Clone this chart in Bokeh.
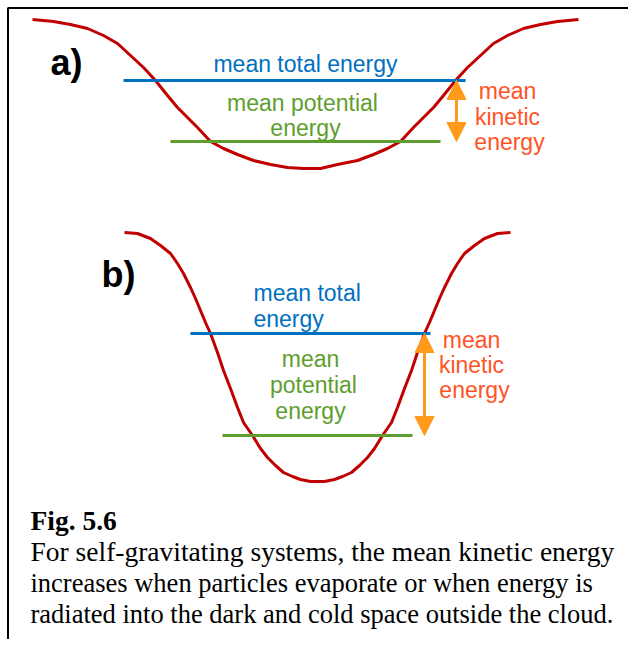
from bokeh.plotting import figure
from bokeh.models import Range1d, ColumnDataSource, Arrow, NormalHead
from bokeh.core.properties import value
from bokeh.embed import file_html
from bokeh.resources import INLINE

# ---------------- data (image pixel coordinates) ----------------
well_a_x = [32, 53, 70, 87, 103, 117, 130, 143, 155, 167, 177, 187, 197, 210, 223, 237, 253, 270, 287, 303, 320,
            337, 357, 373, 387, 400, 413, 423, 433, 443, 455, 467, 480, 493, 507, 523, 540, 557, 578]
well_a_y = [19, 21, 24, 28, 35, 43, 55, 67, 80, 95, 107, 117, 127, 141, 148, 154, 160, 164, 167, 168, 168,
            164, 160, 154, 148, 141, 127, 117, 107, 95, 80, 67, 55, 43, 35, 28, 24, 21, 19]

well_b_x = [124, 137, 150, 160, 170, 177, 183, 190, 195, 200, 205, 210, 217, 223, 230, 237, 243, 252, 260, 267,
            275, 283, 292, 300, 310, 317, 324, 334, 342, 351, 359, 367, 374, 382, 391, 397, 404, 411, 417, 424,
            429, 434, 439, 444, 451, 457, 464, 474, 484, 497, 510]
well_b_y = [232, 233, 238, 245, 253, 263, 273, 287, 298, 310, 322, 333, 352, 370, 388, 407, 422, 435, 448, 457,
            465, 472, 476, 479, 481, 481, 481, 479, 476, 472, 465, 457, 448, 435, 422, 407, 388, 370, 352, 333,
            322, 310, 298, 287, 273, 263, 253, 245, 238, 233, 232]

total_x0 = [123, 190]
total_x1 = [465, 430]
total_y = [80, 333]

potential_x0 = [170, 222]
potential_x1 = [440, 412]
potential_y = [141, 435]

kinetic_x = [456, 424]
kinetic_top = [80, 333]
kinetic_bottom = [141, 435]

panel_labels = ["a)", "b)"]
panel_label_x = [50, 101]
panel_label_y = [62, 274]

blue_text = ["mean total energy", "mean total", "energy"]
blue_text_x = [305, 253, 253]
blue_text_y = [63, 292, 318]
blue_align = ["center", "left", "left"]

green_text = ["mean potential", "energy", "mean", "potential", "energy"]
green_text_x = [302, 305, 310, 313, 310]
green_text_y = [102, 127, 358, 384, 410]

orange_text = ["mean", "kinetic", "energy", "mean", "kinetic", "energy"]
orange_text_x = [507, 507, 509, 471, 471, 474]
orange_text_y = [90, 116, 141, 339, 364, 389]

caption_title = "Fig. 5.6"
caption_lines = [
    "For self-gravitating systems, the mean kinetic energy",
    "increases when particles evaporate or when energy is",
    "radiated into the dark and cold space outside the cloud.",
]
caption_x = 30
caption_title_y = 520
caption_line_y = [551, 582, 613]

frame_x = [7.5, 7.5, 700]
frame_y = [700, 7.5, 7.5]

# ---------------- styles ----------------
RED = "#C00000"
BLUE = "#0070C0"
GREEN = "#5E9E2E"
ORANGE = "#FF9A1A"
ORANGE_TXT = "#FF5326"
SANS = value("Liberation Sans")
SERIF = value("Liberation Serif")
caption_sizes = ["27.5px", "26.5px", "26.5px"]

p = figure(width=628, height=639, output_backend="svg", toolbar_location=None,
           x_range=Range1d(0, 628), y_range=Range1d(639, 0),
           min_border=0, background_fill_color="white", border_fill_color="white")
p.axis.visible = False
p.grid.visible = False
p.outline_line_color = None

# frame
p.line(frame_x, frame_y, line_color="black", line_width=2)

# wells
p.line(well_a_x, well_a_y, line_color=RED, line_width=3, line_join="round")
p.line(well_b_x, well_b_y, line_color=RED, line_width=3, line_join="round")

# energy levels
p.segment(x0=total_x0, y0=total_y, x1=total_x1, y1=total_y, line_color=BLUE, line_width=3)
p.segment(x0=potential_x0, y0=potential_y, x1=potential_x1, y1=potential_y, line_color=GREEN, line_width=3)

# arrows
arrow_src = ColumnDataSource(dict(xs=kinetic_x, ys=kinetic_top, xe=kinetic_x, ye=kinetic_bottom))
p.add_layout(Arrow(source=arrow_src, x_start="xs", y_start="ys", x_end="xe", y_end="ye",
                   line_color=ORANGE, line_width=3,
                   start=NormalHead(size=19, fill_color=ORANGE, line_color=ORANGE, line_width=1),
                   end=NormalHead(size=19, fill_color=ORANGE, line_color=ORANGE, line_width=1)))

# texts
p.text(x=panel_label_x, y=panel_label_y, text=panel_labels, text_font=SANS, text_font_size="36px",
       text_font_style="bold", text_color="black", text_baseline="alphabetic", text_align="left")

blue_src = ColumnDataSource(dict(x=blue_text_x, y=blue_text_y, t=blue_text, a=blue_align))
p.text(x="x", y="y", text="t", text_align="a", source=blue_src, text_font=SANS, text_font_size="23px",
       text_color=BLUE, text_baseline="alphabetic")

p.text(x=green_text_x, y=green_text_y, text=green_text, text_font=SANS, text_font_size="23px",
       text_color=GREEN, text_baseline="alphabetic", text_align="center")

p.text(x=orange_text_x, y=orange_text_y, text=orange_text, text_font=SANS, text_font_size="23px",
       text_color=ORANGE_TXT, text_baseline="alphabetic", text_align="center")

p.text(x=[caption_x], y=[caption_title_y], text=[caption_title], text_font=SERIF, text_font_size="27.5px",
       text_font_style="bold", text_color="black", text_baseline="alphabetic", text_align="left")
cap_src = ColumnDataSource(dict(x=[caption_x] * len(caption_lines), y=caption_line_y, t=caption_lines,
                                s=caption_sizes))
p.text(x="x", y="y", text="t", text_font_size="s", source=cap_src, text_font=SERIF,
       text_color="black", text_baseline="alphabetic", text_align="left")

open("out.html", "w").write(file_html(p, INLINE))
